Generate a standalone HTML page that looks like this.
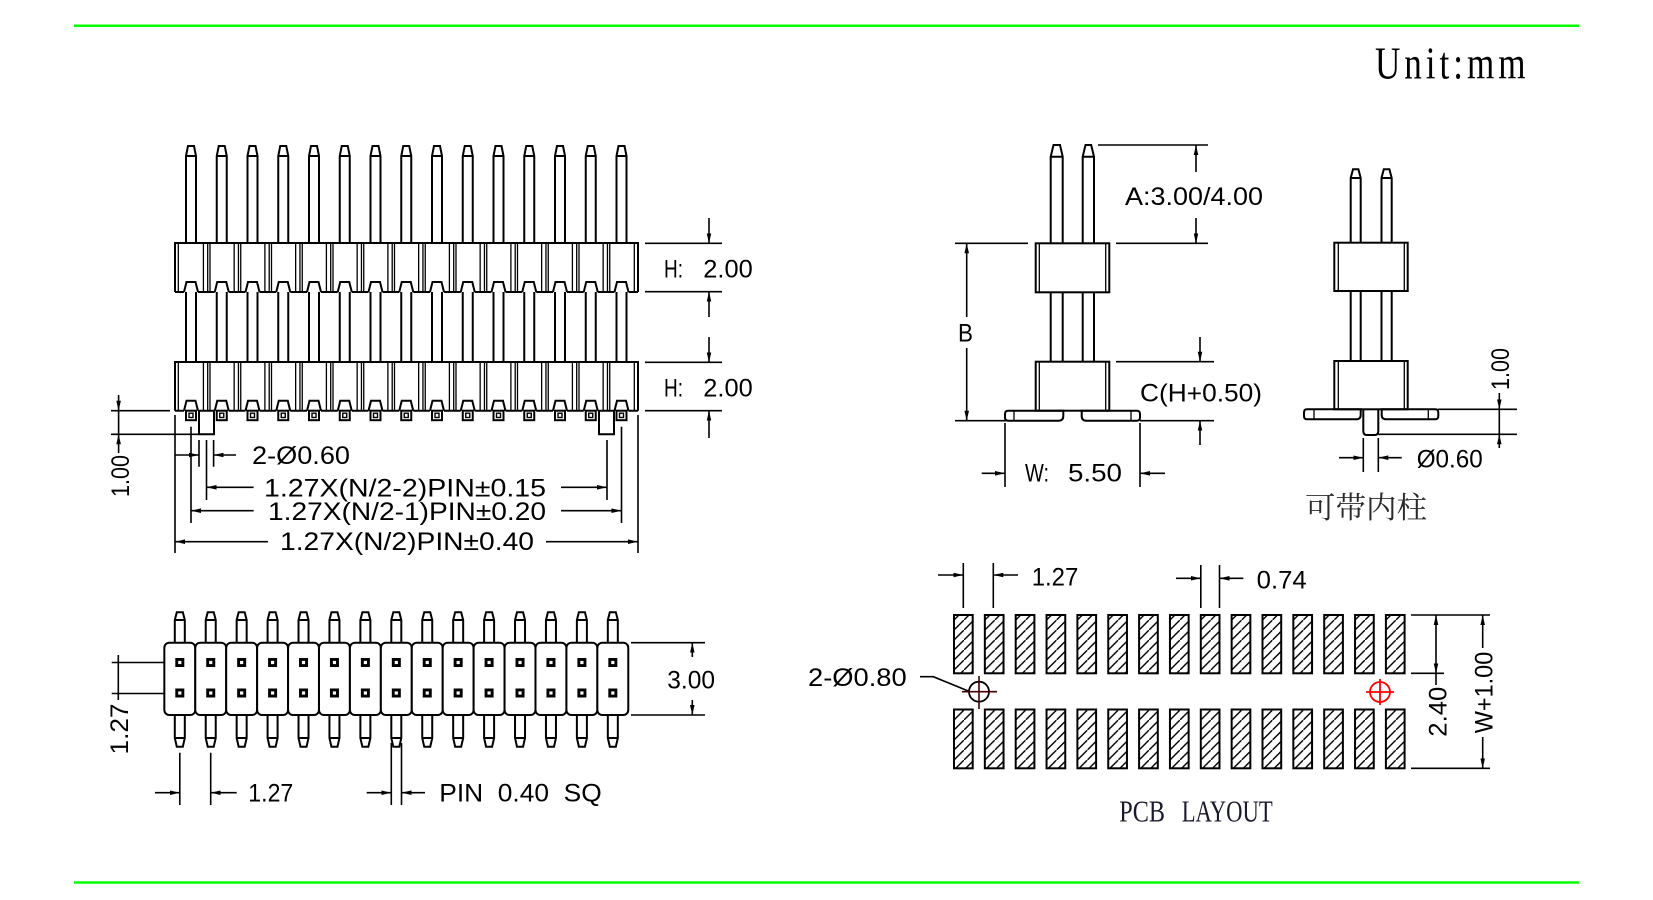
<!DOCTYPE html>
<html><head><meta charset="utf-8"><style>
html,body{margin:0;padding:0;background:#fff;width:1653px;height:900px;overflow:hidden}
svg{display:block}
.t{font-family:"Liberation Sans",sans-serif;font-size:25px;fill:#000}
</style></head><body>
<svg width="1653" height="900" viewBox="0 0 1653 900" xmlns="http://www.w3.org/2000/svg">
<defs>
<marker id="a" viewBox="0 0 10 6" markerWidth="10" markerHeight="6" refX="10" refY="3" orient="auto" markerUnits="userSpaceOnUse"><path d="M0,0.7L10,3L0,5.3z" fill="#000"/></marker>
<pattern id="hp" patternUnits="userSpaceOnUse" width="10" height="10"><path d="M-2,12L12,-2" stroke="#000" stroke-width="1.4"/></pattern>
<g id="fp" fill="none" stroke="#000" stroke-width="2">
 <path d="M-5,243V156L-3,146H3L5,156V243M-5,156H5"/>
 <path d="M-7,292L-4.5,282H4.5L7,292M-5,292V362M5,292V362"/>
 <path d="M-7,410.7L-4.5,400.7H4.5L7,410.7"/>
 <rect x="-5" y="410.7" width="10" height="9.5"/>
 <rect x="-2" y="413.2" width="4" height="4.3" stroke-width="1.4"/>
</g>
<g id="fb" stroke="#000" stroke-width="1.3">
 <path d="M12.4,243V292M16.7,243V292M19,243V292M12.4,362V410.7M16.7,362V410.7M19,362V410.7"/>
</g>
<g id="bp" stroke="#000" stroke-width="2">
 <path d="M-5,642.7V620L-3,612.3H3L5,620V642.7M-5,620H5" fill="none"/>
 <path d="M-5,715V738L-3,746.7H3L5,738V715M-5,738H5" fill="none"/>
 <rect x="-15.47" y="642.7" width="30.93" height="72.3" rx="5" fill="#fff"/>
 <rect x="-4.5" y="658" width="9" height="9" fill="#000" stroke="none"/>
 <rect x="-1.6" y="660.9" width="3.2" height="3.2" fill="#fff" stroke="none"/>
 <rect x="-4.5" y="688.5" width="9" height="9" fill="#000" stroke="none"/>
 <rect x="-1.6" y="691.4" width="3.2" height="3.2" fill="#fff" stroke="none"/>
</g>
<g id="pd" fill="url(#hp)" stroke="#000" stroke-width="2">
 <rect x="0" y="615" width="18.7" height="58.3"/>
 <rect x="0" y="709.5" width="18.7" height="58.8"/>
</g>
</defs>

<!-- green frame lines -->
<line x1="74" y1="25.7" x2="1579" y2="25.7" stroke="#00ff00" stroke-width="2.5"/>
<line x1="74" y1="882.5" x2="1579" y2="882.5" stroke="#00ff00" stroke-width="2.5"/>

<text transform="translate(1375,78.3) scale(0.78,1)" font-family="Liberation Serif, serif" font-size="45" textLength="193" lengthAdjust="spacing" fill="#000">Unit:mm</text>

<!-- ============ FRONT VIEW ============ -->
<g fill="none" stroke="#000" stroke-width="2">
 <path d="M175,292V243H638V292"/>
 <path d="M175,410.7V362H638V410.7"/>
 <line x1="175" y1="292" x2="638" y2="292" stroke-dasharray="16.75 14" stroke-dashoffset="7.75"/>
 <line x1="175" y1="410.7" x2="638" y2="410.7" stroke-dasharray="16.75 14" stroke-dashoffset="7.75"/>
 <path d="M178.3,243V292M634.3,243V292M178.3,362V410.7M634.3,362V410.7" stroke-width="1.3"/>
 <!-- posts -->
 <path d="M199,410.7V434.3H214V410.7"/>
 <path d="M599,410.7V434.3H614V410.7"/>
</g>
<use href="#fp" x="191"/><use href="#fp" x="221.75"/><use href="#fp" x="252.5"/><use href="#fp" x="283.25"/><use href="#fp" x="314"/><use href="#fp" x="344.75"/><use href="#fp" x="375.5"/><use href="#fp" x="406.25"/><use href="#fp" x="437"/><use href="#fp" x="467.75"/><use href="#fp" x="498.5"/><use href="#fp" x="529.25"/><use href="#fp" x="560"/><use href="#fp" x="590.75"/><use href="#fp" x="621.5"/>
<use href="#fb" x="191"/><use href="#fb" x="221.75"/><use href="#fb" x="252.5"/><use href="#fb" x="283.25"/><use href="#fb" x="314"/><use href="#fb" x="344.75"/><use href="#fb" x="375.5"/><use href="#fb" x="406.25"/><use href="#fb" x="437"/><use href="#fb" x="467.75"/><use href="#fb" x="498.5"/><use href="#fb" x="529.25"/><use href="#fb" x="560"/><use href="#fb" x="590.75"/>

<!-- front view dims -->
<g fill="none" stroke="#000" stroke-width="1.6">
 <path d="M645,243.3H722M645,291.7H722M645,362.3H722M645,410.7H722"/>
 <line x1="709" y1="218" x2="709" y2="243.3" marker-end="url(#a)"/>
 <line x1="709" y1="317" x2="709" y2="291.7" marker-end="url(#a)"/>
 <line x1="709" y1="337" x2="709" y2="362.3" marker-end="url(#a)"/>
 <line x1="709" y1="438" x2="709" y2="410.7" marker-end="url(#a)"/>
 <!-- left 1.00 -->
 <path d="M111,410.7H170M111,434.3H199M118.6,410.7V434.3"/>
 <line x1="118.6" y1="395" x2="118.6" y2="410.7" marker-end="url(#a)"/>
 <line x1="118.6" y1="453" x2="118.6" y2="434.3" marker-end="url(#a)"/>
 <!-- extension lines -->
 <path d="M175,415V553M638,415V553M191,426.7V523M621.5,426.7V523M206.5,440V500M607,440V500M199,440V466.7M213.6,440V466.7"/>
 <line x1="175" y1="455" x2="199" y2="455" marker-end="url(#a)"/>
 <line x1="236" y1="455" x2="213.6" y2="455" marker-end="url(#a)"/>
 <line x1="253.6" y1="487.3" x2="206.5" y2="487.3" marker-end="url(#a)"/>
 <line x1="561" y1="487.3" x2="607" y2="487.3" marker-end="url(#a)"/>
 <line x1="253.6" y1="510.7" x2="191" y2="510.7" marker-end="url(#a)"/>
 <line x1="561" y1="510.7" x2="621.5" y2="510.7" marker-end="url(#a)"/>
 <line x1="268" y1="541.7" x2="175" y2="541.7" marker-end="url(#a)"/>
 <line x1="546" y1="541.7" x2="638" y2="541.7" marker-end="url(#a)"/>
</g>
<text class="t" x="664" y="277.3" textLength="19" lengthAdjust="spacingAndGlyphs">H:</text>
<text class="t" x="703.3" y="277.3" textLength="49.4" lengthAdjust="spacingAndGlyphs">2.00</text>
<text class="t" x="664" y="396.6" textLength="19" lengthAdjust="spacingAndGlyphs">H:</text>
<text class="t" x="703.3" y="396.6" textLength="49.4" lengthAdjust="spacingAndGlyphs">2.00</text>
<text class="t" transform="translate(129,476) rotate(-90)" text-anchor="middle" textLength="42" lengthAdjust="spacingAndGlyphs">1.00</text>
<text class="t" x="252" y="464" textLength="98" lengthAdjust="spacingAndGlyphs">2-Ø0.60</text>
<text class="t" x="264" y="496.7" textLength="282" lengthAdjust="spacingAndGlyphs">1.27X(N/2-2)PIN±0.15</text>
<text class="t" x="268" y="520" textLength="278" lengthAdjust="spacingAndGlyphs">1.27X(N/2-1)PIN±0.20</text>
<text class="t" x="280" y="550" textLength="254" lengthAdjust="spacingAndGlyphs">1.27X(N/2)PIN±0.40</text>

<!-- ============ BOTTOM VIEW ============ -->
<use href="#bp" x="179.8"/><use href="#bp" x="210.73"/><use href="#bp" x="241.66"/><use href="#bp" x="272.59"/><use href="#bp" x="303.52"/><use href="#bp" x="334.45"/><use href="#bp" x="365.38"/><use href="#bp" x="396.31"/><use href="#bp" x="427.24"/><use href="#bp" x="458.17"/><use href="#bp" x="489.1"/><use href="#bp" x="520.03"/><use href="#bp" x="550.96"/><use href="#bp" x="581.89"/><use href="#bp" x="612.82"/>
<g fill="none" stroke="#000" stroke-width="1.6">
 <path d="M631,642.7H705M631,715H705"/>
 <line x1="692.3" y1="657" x2="692.3" y2="642.7" marker-end="url(#a)"/>
 <line x1="692.3" y1="700" x2="692.3" y2="715" marker-end="url(#a)"/>
 <path d="M111.7,662.5H165M111.7,693.5H165M118.3,655V700"/>
 <path d="M179.8,752.7V805M210.7,752.7V805M391.3,743V805M401.5,743V805"/>
 <line x1="155" y1="792.7" x2="179.8" y2="792.7" marker-end="url(#a)"/>
 <line x1="236.7" y1="792.7" x2="210.7" y2="792.7" marker-end="url(#a)"/>
 <line x1="366.7" y1="792.7" x2="391.3" y2="792.7" marker-end="url(#a)"/>
 <line x1="425" y1="792.7" x2="401.5" y2="792.7" marker-end="url(#a)"/>
</g>
<text class="t" x="667.3" y="688.3" textLength="47.7" lengthAdjust="spacingAndGlyphs">3.00</text>
<text class="t" transform="translate(128,729) rotate(-90)" text-anchor="middle" textLength="51" lengthAdjust="spacingAndGlyphs">1.27</text>
<text class="t" x="248.3" y="801.7" textLength="45" lengthAdjust="spacingAndGlyphs">1.27</text>
<text class="t" x="439.3" y="801.7" textLength="162.4" lengthAdjust="spacingAndGlyphs" xml:space="preserve">PIN  0.40  SQ</text>

<!-- ============ SIDE VIEW ============ -->
<g fill="none" stroke="#000" stroke-width="2">
 <path d="M1050.7,243.3V156.7L1053.5,145H1060L1062.7,156.7V243.3M1050.7,156.7H1062.7"/>
 <path d="M1082.7,243.3V156.7L1085.5,145H1091.2L1094,156.7V243.3M1082.7,156.7H1094"/>
 <path d="M1050.7,292.3V361.7M1062.7,292.3V361.7M1082.7,292.3V361.7M1094,292.3V361.7"/>
 <rect x="1035.7" y="243.3" width="73.6" height="49"/>
 <rect x="1035.7" y="361.7" width="73.6" height="49"/>
 <path d="M1039.3,243.3V292.3M1105.7,243.3V292.3M1039.3,361.7V410.7M1105.7,361.7V410.7" stroke-width="1.3"/>
 <path d="M1008,410.7H1063.3V416Q1063.3,420.7 1058.5,420.7H1008Q1005,420.7 1005,417.5V414Q1005,410.7 1008,410.7Z"/>
 <path d="M1014,411V420.7" stroke-width="1.3"/>
 <path d="M1137,410.7H1081.7V416Q1081.7,420.7 1086.5,420.7H1137Q1140,420.7 1140,417.5V414Q1140,410.7 1137,410.7Z"/>
 <path d="M1131,411V420.7" stroke-width="1.3"/>
</g>
<g fill="none" stroke="#000" stroke-width="1.6">
 <path d="M1098,145H1208M955,243.3H1028M1116,243.3H1208M1116,361.7H1214M955,420.7H1008M1140,420.7H1214"/>
 <line x1="1196" y1="172" x2="1196" y2="145" marker-end="url(#a)"/>
 <line x1="1196" y1="218" x2="1196" y2="243.3" marker-end="url(#a)"/>
 <line x1="966.7" y1="317" x2="966.7" y2="243.3" marker-end="url(#a)"/>
 <line x1="966.7" y1="348" x2="966.7" y2="420.7" marker-end="url(#a)"/>
 <line x1="1200" y1="337" x2="1200" y2="361.7" marker-end="url(#a)"/>
 <line x1="1200" y1="445" x2="1200" y2="420.7" marker-end="url(#a)"/>
 <path d="M1005,423V487M1140,423V487"/>
 <line x1="981.7" y1="473.3" x2="1005" y2="473.3" marker-end="url(#a)"/>
 <line x1="1165" y1="473.3" x2="1140" y2="473.3" marker-end="url(#a)"/>
</g>
<text class="t" font-size="24" x="1125" y="205" textLength="138" lengthAdjust="spacingAndGlyphs">A:3.00/4.00</text>
<text class="t" x="958" y="341.7" textLength="15" lengthAdjust="spacingAndGlyphs">B</text>
<text class="t" x="1140" y="401.7" textLength="122" lengthAdjust="spacingAndGlyphs">C(H+0.50)</text>
<text class="t" x="1025" y="481.7" textLength="24" lengthAdjust="spacingAndGlyphs">W:</text>
<text class="t" x="1068" y="481.7" textLength="54" lengthAdjust="spacingAndGlyphs">5.50</text>

<!-- ============ RIGHT SIDE VIEW ============ -->
<g fill="none" stroke="#000" stroke-width="2">
 <path d="M1350.7,242.7V178L1353,169.3H1358.4L1360.7,178V242.7M1350.7,178H1360.7"/>
 <path d="M1381.5,242.7V178L1383.8,169.3H1389.4L1391.7,178V242.7M1381.5,178H1391.7"/>
 <path d="M1350.7,291V361M1360.7,291V361M1381.5,291V361M1391.7,291V361"/>
 <rect x="1334.3" y="242.7" width="73.4" height="48.3"/>
 <rect x="1334.3" y="361" width="73.4" height="48.3"/>
 <path d="M1338.3,242.7V291M1404.3,242.7V291M1338.3,361V409.3M1404.3,361V409.3" stroke-width="1.3"/>
 <path d="M1307,409.3H1360.7V415Q1360.7,419.3 1356,419.3H1307Q1304,419.3 1304,416V412.5Q1304,409.3 1307,409.3Z"/>
 <path d="M1314,409.6V419.3" stroke-width="1.3"/>
 <path d="M1435.3,409.3H1381.7V415Q1381.7,419.3 1386.4,419.3H1435.3Q1438.3,419.3 1438.3,416V412.5Q1438.3,409.3 1435.3,409.3Z"/>
 <path d="M1428.3,409.6V419.3" stroke-width="1.3"/>
 <path d="M1363.3,409.3V431Q1363.3,435 1367,435H1374.6Q1378.3,435 1378.3,431V409.3"/>
</g>
<g fill="none" stroke="#000" stroke-width="1.6">
 <path d="M1438,409.3H1517M1378.3,434.3H1517M1499.3,409.3V434.3"/>
 <line x1="1499.3" y1="393" x2="1499.3" y2="409.3" marker-end="url(#a)"/>
 <line x1="1499.3" y1="448" x2="1499.3" y2="434.3" marker-end="url(#a)"/>
 <path d="M1363.3,438V472M1378.3,438V472"/>
 <line x1="1339" y1="457.7" x2="1363.3" y2="457.7" marker-end="url(#a)"/>
 <line x1="1401.7" y1="457.7" x2="1378.3" y2="457.7" marker-end="url(#a)"/>
</g>
<text class="t" transform="translate(1509,369) rotate(-90)" text-anchor="middle" textLength="42" lengthAdjust="spacingAndGlyphs">1.00</text>
<text class="t" x="1416.7" y="467.3" textLength="66" lengthAdjust="spacingAndGlyphs">Ø0.60</text>
<text x="1305" y="518" font-family="Liberation Serif, Noto Serif CJK SC, serif" font-size="30" textLength="122" lengthAdjust="spacingAndGlyphs" fill="#2a2a2a">可带内柱</text>

<!-- ============ PCB LAYOUT ============ -->
<use href="#pd" x="954"/><use href="#pd" x="984.85"/><use href="#pd" x="1015.7"/><use href="#pd" x="1046.55"/><use href="#pd" x="1077.4"/><use href="#pd" x="1108.25"/><use href="#pd" x="1139.1"/><use href="#pd" x="1169.95"/><use href="#pd" x="1200.8"/><use href="#pd" x="1231.65"/><use href="#pd" x="1262.5"/><use href="#pd" x="1293.35"/><use href="#pd" x="1324.2"/><use href="#pd" x="1355.05"/><use href="#pd" x="1385.9"/>
<g fill="none" stroke="#000" stroke-width="1.6">
 <path d="M963.3,563V608M993.3,563V608M1200.8,565V608M1219.5,565V608"/>
 <line x1="938" y1="575" x2="963.3" y2="575" marker-end="url(#a)"/>
 <line x1="1018" y1="575" x2="993.3" y2="575" marker-end="url(#a)"/>
 <line x1="1176" y1="578.3" x2="1200.8" y2="578.3" marker-end="url(#a)"/>
 <line x1="1243.3" y1="578.3" x2="1219.5" y2="578.3" marker-end="url(#a)"/>
 <path d="M920,676.7H933.3L968.3,691"/>
 <path d="M1411,615H1490M1411,673.3H1444M1411,768.3H1490"/>
 <line x1="1436" y1="645" x2="1436" y2="615" marker-end="url(#a)"/>
 <line x1="1436" y1="645" x2="1436" y2="673.3" marker-end="url(#a)"/>
 <path d="M1436,673V685"/>
 <line x1="1482.7" y1="648" x2="1482.7" y2="615" marker-end="url(#a)"/>
 <line x1="1482.7" y1="737" x2="1482.7" y2="768.3" marker-end="url(#a)"/>
</g>
<circle cx="979" cy="691.7" r="10" fill="none" stroke="#000" stroke-width="1.8"/>
<path d="M962,691.7H997M979,676V709" stroke="#400" stroke-width="1.6"/>
<circle cx="1380" cy="692" r="10" fill="none" stroke="#ff0000" stroke-width="1.8"/>
<path d="M1366,692H1394M1380,679V705" stroke="#ff0000" stroke-width="1.8"/>
<text class="t" x="1031.7" y="585.7" textLength="46.6" lengthAdjust="spacingAndGlyphs">1.27</text>
<text class="t" x="1256.7" y="588.3" textLength="50" lengthAdjust="spacingAndGlyphs">0.74</text>
<text class="t" x="808" y="686" textLength="98.7" lengthAdjust="spacingAndGlyphs">2-Ø0.80</text>
<text class="t" transform="translate(1446.7,711.7) rotate(-90)" text-anchor="middle" textLength="50" lengthAdjust="spacingAndGlyphs">2.40</text>
<text class="t" transform="translate(1492.7,692.5) rotate(-90)" text-anchor="middle" textLength="81.6" lengthAdjust="spacingAndGlyphs">W+1.00</text>
<text x="1119.3" y="821.7" font-family="Liberation Serif, serif" font-size="31" textLength="45.7" lengthAdjust="spacingAndGlyphs" fill="#1a1a2e">PCB</text>
<text x="1181.7" y="821.7" font-family="Liberation Serif, serif" font-size="31" textLength="91" lengthAdjust="spacingAndGlyphs" fill="#1a1a2e">LAYOUT</text>
</svg>
</body></html>
